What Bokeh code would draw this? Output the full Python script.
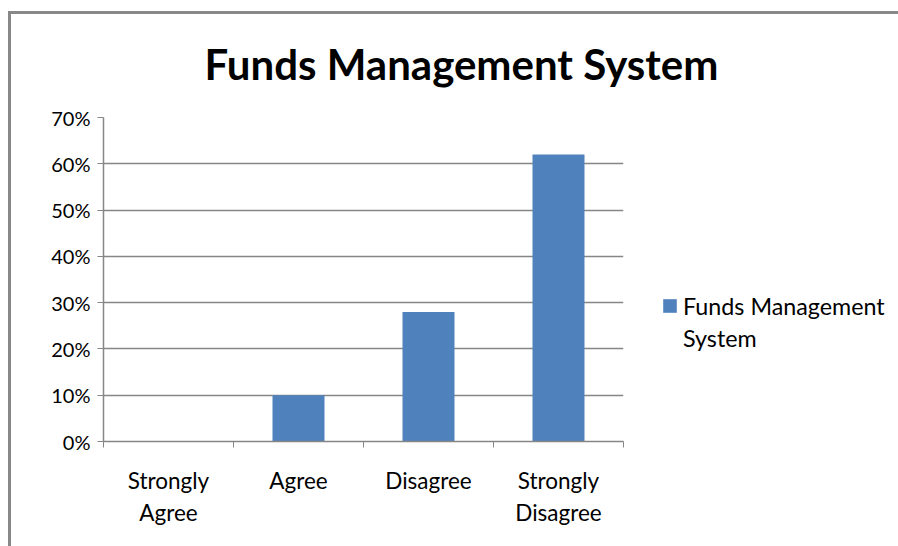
from bokeh.plotting import figure
from bokeh.models import (Range1d, FixedTicker, NumeralTickFormatter, Title,
                          Legend, LegendItem, ColumnDataSource)
from bokeh.embed import file_html
from bokeh.resources import INLINE

title_text = "Funds Management System"
legend_lines = ["Funds Management", "System"]
categories = ["Strongly Agree", "Agree", "Disagree", "Strongly Disagree"]
category_labels = ["Strongly\nAgree", "Agree", "Disagree", "Strongly\nDisagree"]
values = [0.0, 0.10, 0.28, 0.62]
y_ticks = [0.0, 0.1, 0.2, 0.3, 0.4, 0.5, 0.6, 0.7]

FONT = "Lato"
GRAY = "#868686"
BAR = "#4F81BD"

n = len(categories)
centers = [i + 0.5 for i in range(n)]
bounds = [i for i in range(n + 1)]

# chart-area border drawn as two stripes in the host's background
border_bg = ("linear-gradient(#888888, #888888) 0px 7px / 100% 3px no-repeat, "
             "linear-gradient(#888888, #888888) 0px 7px / 3px 100% no-repeat, white")

p = figure(frame_width=520, frame_height=324, output_backend="svg", toolbar_location=None,
           x_range=Range1d(0, n), y_range=Range1d(0, 0.7),
           min_border_left=95, min_border_right=0,
           min_border_top=113, min_border_bottom=105,
           styles={"margin-left": "8px", "margin-top": "4px", "background": border_bg})
p.outline_line_color = None
p.background_fill_color = "white"
p.border_fill_color = None

src = ColumnDataSource(dict(x=centers, top=values, name=categories))
r = p.vbar(x="x", top="top", bottom=0, width=0.4, source=src,
           fill_color=BAR, line_color=None)
# invisible renderer used only to carry the second legend line
dummy = p.vbar(x=[], top=[], bottom=0, width=0.4, fill_alpha=0, line_alpha=0)

# x axis
xa = p.xaxis[0]
xa.ticker = FixedTicker(ticks=centers, minor_ticks=bounds)
xa.major_label_overrides = {c: lab for c, lab in zip(centers, category_labels)}
xa.major_tick_out = 0
xa.major_tick_in = 0
xa.minor_tick_out = 6
xa.minor_tick_in = 0
xa.minor_tick_line_color = GRAY
xa.axis_line_color = GRAY
xa.axis_line_width = 1.5
xa.major_label_text_font = FONT
xa.major_label_text_font_size = "22.5px"
xa.major_label_text_color = "black"
xa.major_label_standoff = 19
p.xgrid.grid_line_color = None

# y axis
ya = p.yaxis[0]
ya.ticker = FixedTicker(ticks=y_ticks, minor_ticks=[])
ya.formatter = NumeralTickFormatter(format="0%")
ya.major_tick_out = 6
ya.major_tick_in = 0
ya.major_tick_line_color = GRAY
ya.axis_line_color = GRAY
ya.axis_line_width = 1.5
ya.major_label_text_font = FONT
ya.major_label_text_font_size = "20px"
ya.major_label_text_color = "black"
ya.major_label_standoff = 7
p.ygrid.ticker = FixedTicker(ticks=y_ticks)
p.ygrid.grid_line_color = GRAY
p.ygrid.grid_line_width = 1.5

# title
p.add_layout(Title(text=title_text, align="left", offset=101, standoff=58,
                   text_font=FONT, text_font_style="bold", text_font_size="42px",
                   text_color="black"), "above")

legend = Legend(items=[LegendItem(label=legend_lines[0], renderers=[r]),
                       LegendItem(label=legend_lines[1], renderers=[dummy])],
                location=(38, 88), border_line_color=None, background_fill_alpha=0,
                padding=0, margin=0, glyph_width=17, glyph_height=17, label_standoff=5,
                label_height=31, spacing=1,
                label_text_font=FONT, label_text_font_size="23.3px", label_text_color="black")
p.add_layout(legend, "right")

open("out.html", "w").write(file_html(p, INLINE))
